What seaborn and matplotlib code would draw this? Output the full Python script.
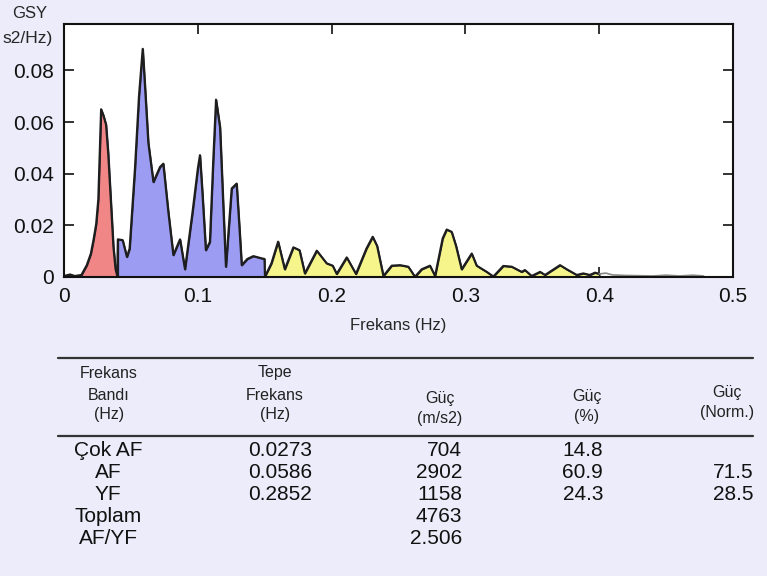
import numpy as np
import matplotlib
matplotlib.use("Agg")
import matplotlib.pyplot as plt
from matplotlib.lines import Line2D
import seaborn as sns

# ---------------- data ----------------
freq = [0.000, 0.0045, 0.008, 0.013, 0.017, 0.020, 0.022, 0.024, 0.0256, 0.0268, 0.0277, 0.0295,
        0.0314, 0.0330, 0.0344, 0.0358, 0.0369, 0.0385, 0.0398,
        0.0402, 0.0438, 0.0470, 0.0490, 0.0530, 0.0560, 0.0588, 0.0605, 0.0630, 0.0668, 0.0695,
        0.0717, 0.0742, 0.0780, 0.0817, 0.0867, 0.0904, 0.0960, 0.1000, 0.1016, 0.1035, 0.1060,
        0.1090, 0.1115, 0.1136, 0.1166, 0.1190, 0.1210, 0.1253, 0.1290, 0.1310, 0.1328, 0.1370,
        0.1415, 0.1480, 0.1498,
        0.1502, 0.1550, 0.1600, 0.1650, 0.1714, 0.1760, 0.1800, 0.1889, 0.1963, 0.2008, 0.2038, 0.2113,
        0.2182, 0.2260, 0.2307, 0.2340, 0.2387, 0.2449, 0.2511, 0.2573, 0.2623, 0.2673, 0.2735, 0.2773,
        0.2830, 0.2860, 0.2897, 0.2930, 0.2972, 0.3047, 0.3084, 0.3159, 0.3209, 0.3283, 0.3346, 0.3420,
        0.3445, 0.3495, 0.3558, 0.3595, 0.3707, 0.3757, 0.3832, 0.3881, 0.3930, 0.3969, 0.4000,
        0.4050, 0.4100, 0.4200, 0.4300, 0.4400, 0.4500, 0.4600, 0.4700, 0.4780]
psd = [0.0004, 0.0010, 0.0004, 0.0008, 0.0046, 0.0090, 0.0143, 0.0205, 0.0300, 0.0500, 0.0650, 0.0625,
       0.0590, 0.0480, 0.0350, 0.0220, 0.0117, 0.0030, 0.0004,
       0.0146, 0.0143, 0.0078, 0.0110, 0.0420, 0.0700, 0.0884, 0.0740, 0.0520, 0.0368, 0.0400,
       0.0426, 0.0439, 0.0250, 0.0085, 0.0146, 0.0030, 0.0250, 0.0420, 0.0472, 0.0320, 0.0104,
       0.0136, 0.0450, 0.0687, 0.0580, 0.0280, 0.0040, 0.0343, 0.0362, 0.0200, 0.0046, 0.0070,
       0.0081, 0.0072, 0.0070,
       0.0002, 0.0053, 0.0137, 0.0030, 0.0115, 0.0104, 0.0014, 0.0102, 0.0053, 0.0044, 0.0012, 0.0076,
       0.0012, 0.0110, 0.0156, 0.0120, 0.0004, 0.0044, 0.0046, 0.0040, 0.0001, 0.0030, 0.0044, 0.0004,
       0.0150, 0.0184, 0.0175, 0.0120, 0.0030, 0.0091, 0.0044, 0.0020, 0.0002, 0.0043, 0.0040, 0.0020,
       0.0027, 0.0004, 0.0020, 0.0008, 0.0046, 0.0030, 0.0008, 0.0014, 0.0008, 0.0017, 0.0012,
       0.0015, 0.0008, 0.0006, 0.0005, 0.0004, 0.0007, 0.0004, 0.0007, 0.0004]

band_names = ["Çok AF", "AF", "YF"]
band_lo = [0.0, 0.04, 0.15]
band_hi = [0.04, 0.15, 0.40]
band_colors = ["#f08686", "#9c9cf2", "#f5f58c"]

x_ticks = [0, 0.1, 0.2, 0.3, 0.4, 0.5]
x_tick_labels = ["0", "0.1", "0.2", "0.3", "0.4", "0.5"]
y_ticks = [0, 0.02, 0.04, 0.06, 0.08]
y_tick_labels = ["0", "0.02", "0.04", "0.06", "0.08"]

table_header = [["Frekans", "Bandı", "(Hz)"], ["Tepe", "Frekans", "(Hz)"], ["Güç", "(m/s2)"],
                ["Güç", "(%)"], ["Güç", "(Norm.)"]]
row_labels = ["Çok AF", "AF", "YF", "Toplam", "AF/YF"]
peak_freq = ["0.0273", "0.0586", "0.2852", "", ""]
power_abs = ["704", "2902", "1158", "4763", "2.506"]
power_pct = ["14.8", "60.9", "24.3", "", ""]
power_norm = ["", "71.5", "28.5", "", ""]

# ---------------- style ----------------
BG = "#ececfa"
W, H = 767, 576
sns.set_theme(style="ticks")
plt.rcParams["font.family"] = ["Liberation Sans", "DejaVu Sans"]

fig = plt.figure(figsize=(W / 100, H / 100), dpi=100, facecolor=BG)
ax = fig.add_axes([64 / W, 1 - 277 / H, (733 - 64) / W, (277 - 24) / H])
ax.set_facecolor("white")

f = np.array(freq)
p = np.array(psd)
for lo, hi, c in zip(band_lo, band_hi, band_colors):
    m = (f >= lo) & (f <= hi)
    ax.fill_between(f[m], p[m], 0, facecolor=c, edgecolor="#1e1e2a", linewidth=1.2, zorder=2)

main = f <= 0.40
sns.lineplot(x=f[main], y=p[main], ax=ax, color="#1e1e1e", linewidth=1.5,
             estimator=None, sort=False, zorder=3)
tail = f >= 0.40
sns.lineplot(x=f[tail], y=p[tail], ax=ax, color="#888888", linewidth=1.2,
             estimator=None, sort=False, zorder=3)

ax.set_xlim(0, 0.5)
ax.set_ylim(0, 0.098)
ax.set_xticks(x_ticks)
ax.set_xticklabels(x_tick_labels)
ax.set_yticks(y_ticks)
ax.set_yticklabels(y_tick_labels)
ax.set_xlabel("Frekans (Hz)", fontsize=12, labelpad=9)
ax.set_ylabel("")
ax.tick_params(direction="in", length=7, width=1.2, top=True, right=True,
               labelsize=15, colors="#111111", pad=7)
ax.tick_params(axis="y", pad=7)
for s in ax.spines.values():
    s.set_visible(True)
    s.set_linewidth(1.5)
    s.set_color("#111111")
    s.set_zorder(5)

# y-axis unit label (cropped in the original)
fig.text(30 / W, 1 - 14 / H, "GSY", ha="center", va="center", fontsize=12)
fig.text(2 / W, 1 - 38 / H, "s2/Hz)", ha="left", va="center", fontsize=12.5)

# ---------------- table ----------------
def px(x, y):
    return x / W, 1 - y / H

for yl in (358, 436):
    fig.add_artist(Line2D([58 / W, 753 / W], [1 - yl / H, 1 - yl / H],
                          color="#333333", linewidth=1.6))

hdr_x = [109, 275, 440, 587, 727]
hdr_y3 = [373, 395, 415]
hdr_y2 = {2: [399, 419], 3: [397, 417], 4: [393, 412]}
for i, lines in enumerate(table_header):
    ys = hdr_y3 if len(lines) == 3 else hdr_y2[i]
    for t, yy in zip(lines, ys):
        fig.text(*px(hdr_x[i], yy), t, ha="center", va="center", fontsize=11.5, color="#222222")

row_y = [451, 473, 495, 517, 539]
for i, yy in enumerate(row_y):
    fig.text(*px(108, yy), row_labels[i], ha="center", va="center", fontsize=15, color="#111111")
    fig.text(*px(280, yy), peak_freq[i], ha="center", va="center", fontsize=15, color="#111111")
    fig.text(*px(462, yy), power_abs[i], ha="right", va="center", fontsize=15, color="#111111")
    fig.text(*px(603, yy), power_pct[i], ha="right", va="center", fontsize=15, color="#111111")
    fig.text(*px(753, yy), power_norm[i], ha="right", va="center", fontsize=15, color="#111111")

fig.savefig("out.png", dpi=100, facecolor=BG)
